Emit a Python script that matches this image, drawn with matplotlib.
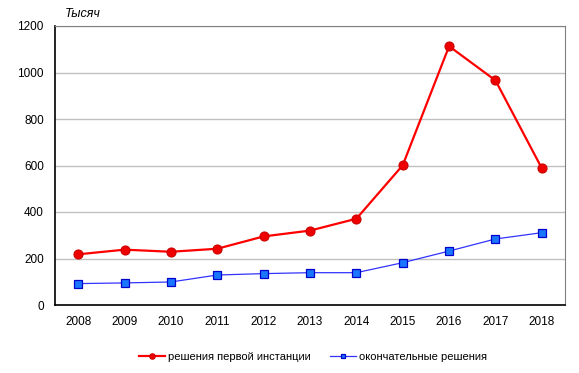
import matplotlib
matplotlib.use("Agg")
import matplotlib.pyplot as plt

plt.rcParams['font.family'] = ['Liberation Sans', 'DejaVu Sans']

years = ['2008', '2009', '2010', '2011', '2012', '2013', '2014', '2015', '2016', '2017', '2018']
first_instance = [218, 238, 229, 242, 295, 320, 371, 601, 1113, 966, 588]
final_decisions = [92, 95, 99, 129, 135, 139, 139, 182, 232, 284, 311]
y_ticks = [0, 200, 400, 600, 800, 1000, 1200]

fig = plt.figure(figsize=(5.79, 3.73), dpi=100)
ax = fig.add_axes([55/579, 1-305/373, 510/579, 279/373])

x = list(range(len(years)))
ax.plot(x, first_instance, color='#ff0000', lw=1.6, marker='o', markersize=6.5,
        markerfacecolor='#ee0000', markeredgecolor='#cc0000', markeredgewidth=0.8,
        label='решения первой инстанции', zorder=3)
ax.plot(x, final_decisions, color='#3333ff', lw=0.9, marker='s', markersize=5.5,
        markerfacecolor='#1a75ff', markeredgecolor='#0000cc', markeredgewidth=0.9,
        label='окончательные решения', zorder=3)

ax.set_xlim(-0.5, len(years) - 0.5)
ax.set_ylim(0, 1200)
ax.set_xticks(x)
ax.set_xticklabels(years)
ax.set_yticks(y_ticks)
ax.tick_params(axis='both', length=0, labelsize=8.5, pad=8)
ax.grid(axis='y', color='#c0c0c0', lw=1)
ax.set_axisbelow(True)
for s in ['top', 'right']:
    ax.spines[s].set_color('#808080')
for s in ['left', 'bottom']:
    ax.spines[s].set_color('#000000')
    ax.spines[s].set_linewidth(1.2)

fig.text(65/579, 1-14/373, 'Тысяч', fontsize=9, style='italic', va='center', ha='left')

leg = fig.legend(loc='center', bbox_to_anchor=(313/579, 1-357/373), ncol=2, frameon=False,
                 fontsize=8, markerscale=0.6, handlelength=2.4, handletextpad=0.25,
                 columnspacing=1.7)

fig.savefig('out.png', dpi=100)
